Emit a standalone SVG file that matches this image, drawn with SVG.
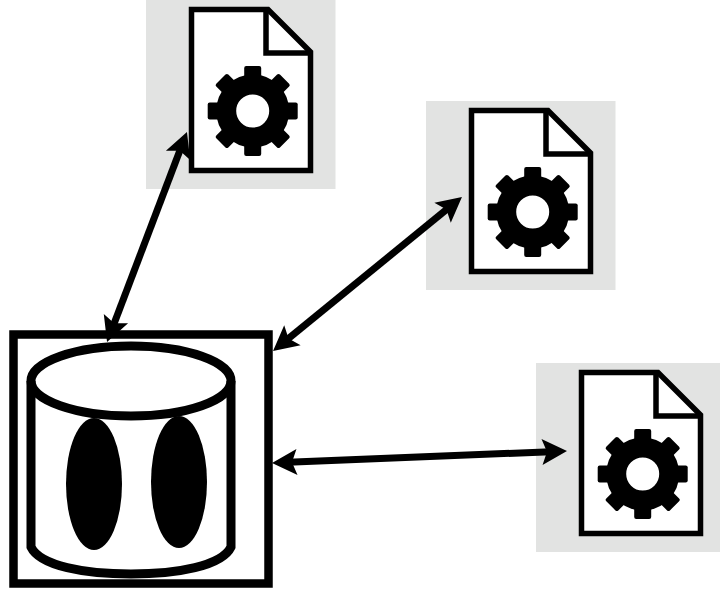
<svg xmlns="http://www.w3.org/2000/svg" width="720" height="590" viewBox="0 0 720 590">
  <style>
    .bg { fill: #e2e3e2; }
    .page { fill: #fff; stroke: #000; stroke-width: 5.5; stroke-linejoin: miter; }
    .fold { fill: none; stroke: #000; stroke-width: 5.5; }
    .ln { fill: none; stroke: #000; stroke-width: 8.5; }
    .cyl { fill: none; stroke: #000; stroke-width: 9; }
    .arrow { fill: none; stroke: #000; stroke-width: 7; marker-start: url(#head); marker-end: url(#head); }
  </style>
  <defs>
    <marker id="head" markerUnits="userSpaceOnUse" markerWidth="40" markerHeight="40" viewBox="-20 -20 40 40" refX="4" refY="0" orient="auto-start-reverse">
      <path d="M14,0 L-11,-13 L-6,0 L-11,13 Z" fill="#000"/>
    </marker>
    <g id="doc">
      <rect class="bg" x="146" y="0" width="189.500" height="189"/>
      <path class="page" d="M191.500,9.500 H268 L310.500,52 V170.500 H191.500 Z"/>
      <path class="fold" d="M266,9.500 V53 H310"/>
      <g transform="translate(252.700,111)" fill="#000">
        <circle r="26.500" fill="none" stroke="#000" stroke-width="20"/>
        <rect x="-8.500" y="-45" width="17" height="16" rx="2"/>
        <rect x="-8.500" y="-45" width="17" height="16" rx="2" transform="rotate(45)"/>
        <rect x="-8.500" y="-45" width="17" height="16" rx="2" transform="rotate(90)"/>
        <rect x="-8.500" y="-45" width="17" height="16" rx="2" transform="rotate(135)"/>
        <rect x="-8.500" y="-45" width="17" height="16" rx="2" transform="rotate(180)"/>
        <rect x="-8.500" y="-45" width="17" height="16" rx="2" transform="rotate(225)"/>
        <rect x="-8.500" y="-45" width="17" height="16" rx="2" transform="rotate(270)"/>
        <rect x="-8.500" y="-45" width="17" height="16" rx="2" transform="rotate(315)"/>
      </g>
    </g>
  </defs>
  <rect width="720" height="590" fill="#fff"/>
  <g id="doc-1"><use href="#doc"/></g>
  <g id="doc-2"><use href="#doc" transform="translate(280,101)"/></g>
  <g id="doc-3"><use href="#doc" transform="translate(390,363)"/></g>
  <g id="database">
    <rect class="ln" x="13.500" y="334.500" width="255" height="249" fill="#fff"/>
    <path class="cyl" d="M31,381 V547 C40,566 85,574 131,574 C177,574 222,566 231,547 V381"/>
    <ellipse class="cyl" cx="131" cy="381" rx="100" ry="35" fill="#fff"/>
    <ellipse cx="94" cy="484" rx="28" ry="66" fill="#000"/>
    <ellipse cx="179" cy="482" rx="28" ry="66" fill="#000"/>
  </g>
  <g id="connectors">
    <line class="arrow" x1="110.600" y1="332.700" x2="183.400" y2="141.300"/>
    <line class="arrow" x1="280.800" y1="344.700" x2="454.200" y2="203.300"/>
    <line class="arrow" x1="282" y1="462.600" x2="557" y2="451.400"/>
  </g>
</svg>
